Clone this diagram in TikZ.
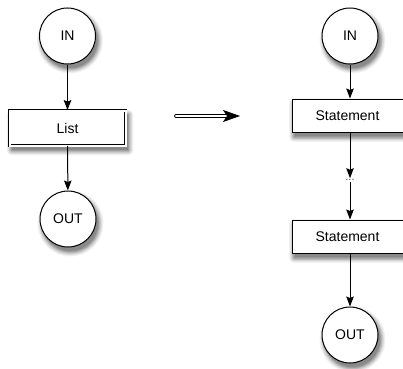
\documentclass[tikz,border=0pt]{standalone}
\usepackage{fontspec}
\setmainfont{Liberation Sans}
\usetikzlibrary{arrows.meta,backgrounds}
% soft drop shadows made of opaque grey layers, widest and lightest first
\newcommand\boxshade[1]{%
  \foreach \e/\c/\r in {5/4/5pt,4.2/8/4.2pt,3.4/13/3.4pt,2.6/19/2.6pt,1.8/26/1.8pt,1/33/1pt,0.2/40/0.2pt,-0.6/46/0pt}{%
    \fill[black!\c,rounded corners=\r]
      ([shift={(2.5-\e,-4.5-\e)}]#1.south west) rectangle ([shift={(2.5+\e,-4.5+\e)}]#1.north east);}}
\newcommand\circshade[2]{%
  \foreach \e/\c in {5/4,4.2/8,3.4/13,2.6/19,1.8/26,1/33,0.2/40,-0.6/46}{%
    \fill[black!\c] ([shift={(2.5,-4.5)}]#1.center) circle ({#2+\e});}}
\begin{document}
\begin{tikzpicture}[x=1pt,y=1pt,
  every node/.style={font=\fontsize{14}{16}\selectfont},
  term/.style={circle,draw,line width=1pt,fill=white,minimum size=56pt,inner sep=0pt},
  stmt/.style={rectangle,draw,line width=1pt,fill=white,minimum width=111pt,minimum height=33pt,inner sep=0pt},
  listbox/.style={rectangle,draw,line width=0.8pt,double,double distance=2pt,fill=white,minimum width=116pt,minimum height=35pt,inner sep=0pt},
  flow/.style={line width=1pt,-{Stealth[length=10pt,width=7.5pt,inset=1.5pt]}},
  dotsnode/.style={font=\fontsize{11}{12}\selectfont,text=black!70,inner sep=1pt}
]
\useasboundingbox (0,0) rectangle (403,368);

% left chart
\node[term] (inL) at (67.5,332) {IN};
\node[listbox] (list) at (67.5,240) {List};
\node[term] (outL) at (68,149) {OUT};
\draw[flow] (inL) -- (list);
\draw[flow] (list) -- (outL);

% expansion arrow
\coordinate (ra) at (176,252);
\coordinate (rb) at (240,252);
\draw[line width=0.8pt,double,double distance=2.2pt,line cap=round,-{Stealth[length=17pt,width=12pt,inset=4pt]}] (ra) -- (rb);

% right chart
\node[term] (inR) at (350,332) {IN};
\node[stmt] (s1) at (347.5,252.5) {Statement};
\node[dotsnode] (dots) at (350,188) {...};
\node[stmt] (s2) at (347.5,131.5) {Statement};
\node[term] (outR) at (350,33) {OUT};
\draw[flow] (inR) -- (inR |- s1.north);
\draw[flow] (inR |- s1.south) -- (dots);
\draw[flow] (dots) -- (inR |- s2.north);
\draw[flow] (inR |- s2.south) -- (outR);

% shadows behind the shapes
\begin{scope}[on background layer]
  \circshade{inL}{28}
  \boxshade{list}
  \circshade{outL}{28}
  \circshade{inR}{28}
  \boxshade{s1}
  \boxshade{s2}
  \circshade{outR}{28}
\end{scope}
\end{tikzpicture}
\end{document}
